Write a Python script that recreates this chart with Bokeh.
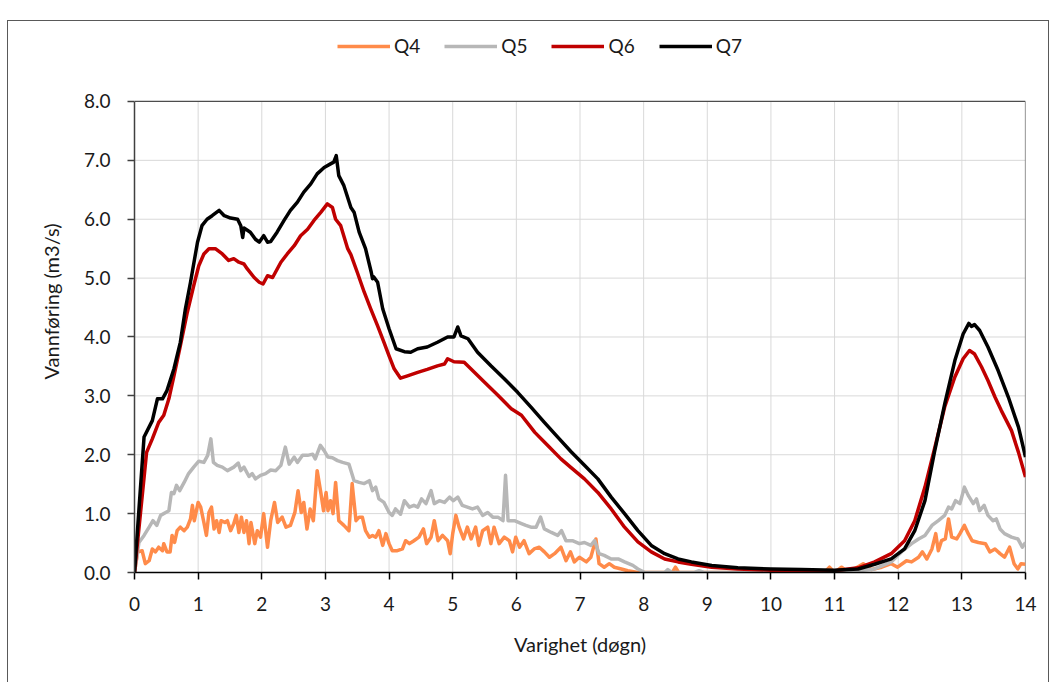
from bokeh.plotting import figure
from bokeh.models import FixedTicker, NumeralTickFormatter, Legend, LegendItem, Range1d
from bokeh.embed import file_html
from bokeh.resources import INLINE

# ---- data ----
series_names = ["Q4", "Q5", "Q6", "Q7"]
series_colors = ["#FF8B4A", "#B7B7B7", "#C00000", "#000000"]

x_ticks = list(range(0, 15))
y_ticks = [0, 1, 2, 3, 4, 5, 6, 7, 8]

q7_day = [0, 0.15, 0.28, 0.36, 0.44, 0.51, 0.62, 0.72, 0.80, 0.88, 0.99, 1.06, 1.14, 1.22, 1.33,
          1.41, 1.51, 1.62, 1.67, 1.70, 1.72, 1.75, 1.82, 1.90, 1.96, 2.03, 2.09, 2.14, 2.24, 2.35,
          2.45, 2.56, 2.66, 2.77, 2.87, 2.98, 3.08, 3.13, 3.17, 3.21, 3.29, 3.40, 3.45, 3.53, 3.63,
          3.72, 3.74, 3.76, 3.82, 3.90, 4.00, 4.11, 4.24, 4.34, 4.45, 4.60, 4.76, 4.92, 5.02, 5.08,
          5.13, 5.24, 5.39, 5.60, 5.81, 6.02, 6.23, 6.44, 6.65, 6.86, 7.07, 7.28, 7.49, 7.70, 7.91,
          8.12, 8.33, 8.54, 8.75, 9.07, 9.48, 10.0, 10.48, 11.0, 11.37, 11.63, 11.89, 12.10, 12.26,
          12.42, 12.57, 12.73, 12.89, 13.02, 13.11, 13.15, 13.20, 13.28, 13.41, 13.57, 13.73, 13.89, 14.0]
q7_val = [0, 2.30, 2.58, 2.95, 2.95, 3.09, 3.46, 3.91, 4.48, 4.93, 5.61, 5.89, 6.00, 6.06, 6.15,
          6.06, 6.02, 6.00, 5.89, 5.69, 5.85, 5.83, 5.78, 5.66, 5.61, 5.72, 5.61, 5.62, 5.78, 5.98,
          6.15, 6.29, 6.46, 6.60, 6.77, 6.88, 6.94, 6.97, 7.08, 6.74, 6.57, 6.20, 6.12, 5.78, 5.50,
          5.10, 4.99, 5.02, 4.93, 4.48, 4.14, 3.80, 3.75, 3.74, 3.80, 3.83, 3.91, 4.00, 4.00, 4.17,
          4.02, 3.97, 3.74, 3.51, 3.29, 3.06, 2.81, 2.55, 2.30, 2.05, 1.82, 1.59, 1.28, 1.00, 0.71,
          0.46, 0.32, 0.23, 0.18, 0.12, 0.08, 0.06, 0.05, 0.04, 0.06, 0.14, 0.23, 0.40, 0.71,
          1.22, 2.05, 2.86, 3.60, 4.05, 4.23, 4.18, 4.21, 4.11, 3.83, 3.43, 2.98, 2.47, 1.96]

q6_day = [0, 0.19, 0.28, 0.38, 0.46, 0.54, 0.62, 0.72, 0.83, 0.93, 1.01, 1.09, 1.17, 1.27, 1.38,
          1.48, 1.56, 1.64, 1.72, 1.77, 1.88, 1.96, 2.02, 2.09, 2.17, 2.30, 2.40, 2.51, 2.61, 2.72,
          2.82, 2.93, 3.03, 3.11, 3.16, 3.24, 3.35, 3.40, 3.50, 3.61, 3.71, 3.82, 3.92, 4.00, 4.08,
          4.18, 4.29, 4.45, 4.60, 4.76, 4.87, 4.92, 5.02, 5.18, 5.34, 5.50, 5.71, 5.92, 6.08, 6.29,
          6.49, 6.70, 6.86, 7.07, 7.28, 7.49, 7.70, 7.91, 8.12, 8.33, 8.54, 8.75, 9.07, 9.48, 10.0,
          10.48, 11.0, 11.37, 11.63, 11.89, 12.10, 12.26, 12.42, 12.57, 12.73, 12.89, 13.02, 13.12,
          13.20, 13.31, 13.41, 13.52, 13.62, 13.78, 13.89, 14.0]
q6_val = [0, 2.04, 2.27, 2.55, 2.67, 2.95, 3.34, 3.85, 4.42, 4.87, 5.21, 5.41, 5.50, 5.50, 5.41,
          5.30, 5.33, 5.27, 5.24, 5.16, 5.01, 4.93, 4.90, 5.04, 5.01, 5.27, 5.41, 5.55, 5.72, 5.83,
          5.98, 6.12, 6.26, 6.20, 6.00, 5.89, 5.50, 5.40, 5.10, 4.76, 4.48, 4.19, 3.91, 3.68, 3.46,
          3.30, 3.34, 3.40, 3.45, 3.51, 3.54, 3.63, 3.58, 3.57, 3.40, 3.23, 3.01, 2.78, 2.67, 2.38,
          2.16, 1.93, 1.78, 1.59, 1.36, 1.08, 0.77, 0.52, 0.35, 0.23, 0.18, 0.14, 0.09, 0.06, 0.04,
          0.03, 0.03, 0.08, 0.18, 0.32, 0.54, 0.88, 1.45, 2.10, 2.81, 3.32, 3.63, 3.77,
          3.71, 3.49, 3.26, 2.98, 2.75, 2.41, 2.04, 1.62]

q5_day = [0, 0.07, 0.15, 0.23, 0.29, 0.35, 0.41, 0.49, 0.54, 0.58, 0.62, 0.66, 0.71, 0.78, 0.85,
          0.93, 1.01, 1.09, 1.15, 1.20, 1.24, 1.30, 1.38, 1.46, 1.51, 1.56, 1.63, 1.67, 1.72, 1.80,
          1.85, 1.90, 1.98, 2.06, 2.14, 2.22, 2.30, 2.37, 2.43, 2.51, 2.56, 2.64, 2.72, 2.80, 2.84,
          2.92, 2.98, 3.04, 3.11, 3.19, 3.27, 3.37, 3.45, 3.53, 3.61, 3.69, 3.74, 3.79, 3.84, 3.92,
          4.00, 4.05, 4.10, 4.18, 4.24, 4.32, 4.39, 4.45, 4.51, 4.58, 4.66, 4.71, 4.79, 4.87, 4.95,
          5.01, 5.08, 5.15, 5.23, 5.31, 5.39, 5.47, 5.55, 5.63, 5.71, 5.79, 5.83, 5.87, 5.97, 6.08,
          6.15, 6.23, 6.31, 6.38, 6.44, 6.55, 6.65, 6.71, 6.78, 6.88, 6.99, 7.07, 7.17, 7.23, 7.30,
          7.38, 7.49, 7.60, 7.70, 7.83, 7.91, 8.02, 8.33, 8.38, 8.44, 8.80, 8.87, 8.95, 11.0, 11.11,
          11.37, 11.63, 11.89, 12.05, 12.21, 12.32, 12.42, 12.53, 12.63, 12.73, 12.79, 12.84, 12.90,
          12.97, 13.04, 13.10, 13.18, 13.23, 13.28, 13.35, 13.41, 13.49, 13.54, 13.60, 13.67, 13.78,
          13.88, 13.95, 14.0]
q5_val = [0, 0.51, 0.63, 0.77, 0.88, 0.80, 0.97, 1.02, 1.05, 1.36, 1.34, 1.48, 1.39, 1.53, 1.68,
          1.79, 1.89, 1.87, 1.99, 2.27, 1.87, 1.82, 1.79, 1.73, 1.76, 1.79, 1.86, 1.73, 1.79, 1.63,
          1.68, 1.59, 1.65, 1.68, 1.74, 1.73, 1.82, 2.13, 1.84, 1.96, 1.87, 1.99, 1.99, 2.01, 1.93,
          2.16, 2.07, 1.96, 1.95, 1.90, 1.87, 1.84, 1.56, 1.53, 1.51, 1.56, 1.39, 1.45, 1.25, 1.19,
          1.02, 0.97, 1.08, 0.99, 1.22, 1.11, 1.14, 1.11, 1.25, 1.17, 1.39, 1.17, 1.22, 1.19, 1.28,
          1.22, 1.28, 1.14, 1.11, 1.08, 1.11, 0.97, 1.02, 0.94, 0.94, 0.88, 1.65, 0.88, 0.88, 0.83,
          0.80, 0.77, 0.77, 0.94, 0.74, 0.68, 0.63, 0.71, 0.54, 0.54, 0.49, 0.51, 0.46, 0.54, 0.32,
          0.29, 0.23, 0.23, 0.18, 0.12, 0.06, 0.0, 0.0, 0.05, 0.0, 0.0, 0.03, 0.0, 0.0, 0.02,
          0.03, 0.06, 0.18, 0.35, 0.49, 0.57, 0.63, 0.80, 0.88, 0.97, 1.11, 1.08, 1.22,
          1.17, 1.45, 1.31, 1.17, 1.25, 1.05, 1.14, 0.97, 0.88, 0.91, 0.74, 0.66, 0.60,
          0.57, 0.43, 0.51]

q4_day = [0, 0.05, 0.12, 0.17, 0.23, 0.28, 0.33, 0.38, 0.44, 0.46, 0.51, 0.56, 0.59, 0.63, 0.67,
          0.72, 0.78, 0.83, 0.88, 0.91, 0.94, 1.00, 1.04, 1.09, 1.13, 1.17, 1.21, 1.25, 1.29, 1.33,
          1.36, 1.42, 1.46, 1.51, 1.56, 1.60, 1.64, 1.68, 1.72, 1.76, 1.80, 1.83, 1.89, 1.93, 1.98,
          2.03, 2.09, 2.14, 2.20, 2.25, 2.32, 2.38, 2.45, 2.52, 2.57, 2.62, 2.66, 2.71, 2.76, 2.81,
          2.87, 2.93, 2.97, 3.01, 3.04, 3.08, 3.12, 3.16, 3.21, 3.29, 3.37, 3.42, 3.48, 3.53, 3.58,
          3.63, 3.69, 3.74, 3.79, 3.84, 3.90, 3.95, 4.00, 4.05, 4.13, 4.21, 4.26, 4.32, 4.39, 4.47,
          4.54, 4.59, 4.66, 4.71, 4.77, 4.84, 4.92, 4.96, 5.00, 5.05, 5.10, 5.17, 5.23, 5.29, 5.36,
          5.41, 5.47, 5.55, 5.60, 5.65, 5.73, 5.81, 5.89, 5.94, 5.99, 6.05, 6.12, 6.20, 6.28, 6.36,
          6.44, 6.52, 6.60, 6.70, 6.78, 6.85, 6.91, 6.99, 7.10, 7.17, 7.25, 7.30, 7.38, 7.46, 7.54,
          7.65, 7.75, 7.91, 8.45, 8.50, 8.55, 10.84, 10.92, 11.0, 11.11, 11.18, 11.31, 11.45, 11.58,
          11.74, 11.89, 11.99, 12.13, 12.21, 12.32, 12.38, 12.45, 12.53, 12.59, 12.63, 12.68, 12.74,
          12.79, 12.84, 12.92, 12.97, 13.04, 13.10, 13.16, 13.26, 13.37, 13.44, 13.52, 13.60, 13.67,
          13.75, 13.82, 13.88, 13.93, 14.0]
q4_val = [0, 0.35, 0.37, 0.15, 0.20, 0.40, 0.35, 0.43, 0.37, 0.49, 0.35, 0.35, 0.63, 0.51, 0.71,
          0.77, 0.71, 0.77, 0.91, 1.14, 0.88, 1.19, 1.11, 0.85, 0.63, 1.02, 1.11, 0.74, 0.88, 0.68,
          0.88, 0.85, 0.88, 0.71, 0.83, 0.97, 0.68, 0.94, 0.68, 0.88, 0.49, 0.85, 0.49, 0.71, 0.60,
          1.00, 0.43, 0.88, 1.19, 0.85, 0.94, 0.77, 0.80, 1.02, 1.39, 1.02, 1.19, 0.74, 1.08, 0.88,
          1.73, 1.34, 1.05, 1.36, 1.05, 1.22, 1.00, 1.53, 0.88, 0.80, 0.71, 1.51, 0.88, 0.94, 0.94,
          0.71, 0.60, 0.63, 0.60, 0.71, 0.46, 0.66, 0.49, 0.37, 0.37, 0.40, 0.54, 0.49, 0.54, 0.60,
          0.74, 0.49, 0.60, 0.88, 0.54, 0.63, 0.54, 0.32, 0.66, 0.97, 0.77, 0.57, 0.77, 0.57, 0.77,
          0.46, 0.71, 0.77, 0.49, 0.77, 0.49, 0.60, 0.54, 0.35, 0.60, 0.43, 0.54, 0.32, 0.40, 0.43,
          0.35, 0.26, 0.32, 0.43, 0.20, 0.35, 0.18, 0.26, 0.18, 0.26, 0.57, 0.15, 0.09, 0.15, 0.09,
          0.06, 0.03, 0.0, 0.0, 0.09, 0.0, 0.0, 0.09, 0.0, 0.09, 0.03, 0.06, 0.15, 0.05,
          0.09, 0.15, 0.09, 0.20, 0.18, 0.26, 0.35, 0.23, 0.40, 0.66, 0.37, 0.54, 0.57,
          0.91, 0.60, 0.57, 0.66, 0.80, 0.66, 0.54, 0.51, 0.49, 0.35, 0.40, 0.32, 0.26,
          0.43, 0.15, 0.06, 0.15, 0.14]

series_days = [q4_day, q5_day, q6_day, q7_day]
series_vals = [q4_val, q5_val, q6_val, q7_val]

FONT = "Lato"
TXT = "#1a1a1a"
GRID = "#d9d9d9"
BORDER = "#4d4d4d"

x_min, x_max = x_ticks[0], x_ticks[-1]
y_min, y_max = y_ticks[0], y_ticks[-1]

# the frame reaches above the value axis so that the legend (drawn inside it) sits over the plot
p = figure(width=1042, height=662, output_backend="svg", toolbar_location=None,
           x_range=Range1d(x_min, x_max), y_range=Range1d(y_min, y_max + 1.2054),
           min_border_left=126, min_border_right=25, min_border_top=9, min_border_bottom=111)
p.styles = {"margin-top": "20px", "margin-left": "7px", "border-top": "1px solid #595959",
            "border-left": "1px solid #595959", "border-right": "1px solid #595959"}

p.outline_line_color = None
p.background_fill_color = "white"
p.border_fill_color = "white"
p.xgrid.visible = False
p.ygrid.visible = False

for ax in (p.xaxis[0], p.yaxis[0]):
    ax.major_label_text_font = FONT
    ax.major_label_text_font_size = "19px"
    ax.major_label_text_color = TXT
    ax.axis_label_text_font = FONT
    ax.axis_label_text_font_size = "20px"
    ax.axis_label_text_font_style = "normal"
    ax.axis_label_text_color = TXT
    ax.minor_tick_line_color = None
    ax.major_tick_in = 0
    ax.major_tick_out = 7
    ax.axis_line_width = 1.5
    ax.major_tick_line_width = 1.5

p.xaxis[0].ticker = FixedTicker(ticks=x_ticks)
p.yaxis[0].ticker = FixedTicker(ticks=y_ticks)
p.yaxis[0].bounds = (y_min, y_max)
p.yaxis[0].formatter = NumeralTickFormatter(format="0.0")
p.xaxis[0].axis_label = "Varighet (døgn)"
p.yaxis[0].axis_label = "Vannføring (m3/s)"
p.xaxis[0].axis_line_color = "#000000"
p.xaxis[0].major_tick_line_color = "#000000"
p.yaxis[0].axis_line_color = "#404040"
p.yaxis[0].major_tick_line_color = "#404040"
p.xaxis[0].major_label_standoff = 17
p.yaxis[0].major_label_standoff = 17
p.xaxis[0].axis_label_standoff = 18
p.yaxis[0].axis_label_standoff = 18

# grid lines, limited to the value range 0..8
inner_x = x_ticks[1:-1]
inner_y = y_ticks[1:-1]
p.segment(x0=inner_x, y0=[y_min] * len(inner_x), x1=inner_x, y1=[y_max] * len(inner_x),
          line_color=GRID, line_width=1)
p.segment(x0=[x_min] * len(inner_y), y0=inner_y, x1=[x_max] * len(inner_y), y1=inner_y,
          line_color=GRID, line_width=1)
# plot-area border (top and right)
p.segment(x0=[x_min, x_max], y0=[y_max, y_min], x1=[x_max, x_max], y1=[y_max, y_max],
          line_color=BORDER, line_width=1.2)

items = []
for name, color, d, v in zip(series_names, series_colors, series_days, series_vals):
    r = p.line(d, v, line_color=color, line_width=3.5, line_join="round")
    items.append(LegendItem(label=name, renderers=[r]))

legend = Legend(items=items, orientation="horizontal", location=(203, 515),
                glyph_width=53, glyph_height=20, label_standoff=4, spacing=24,
                padding=0, margin=0, border_line_color=None, background_fill_alpha=0,
                label_text_font=FONT, label_text_font_size="19px", label_text_color=TXT,
                label_height=20)
p.add_layout(legend, "center")

open("out.html", "w").write(file_html(p, INLINE))
